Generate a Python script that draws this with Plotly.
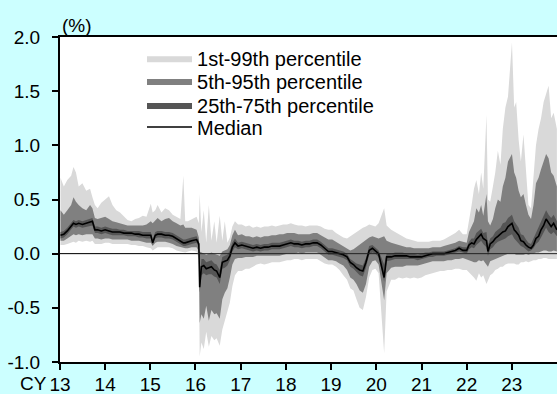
import plotly.graph_objects as go

dates = [
    "2013-01-05", "2013-02-01", "2013-03-01", "2013-04-01", "2013-04-20", "2013-05-10", "2013-06-01",
    "2013-07-01", "2013-08-01", "2013-09-01", "2013-09-20", "2013-10-10", "2013-11-01", "2013-12-01",
    "2014-01-01", "2014-02-01", "2014-03-01", "2014-04-01", "2014-05-01", "2014-06-01", "2014-07-01",
    "2014-08-01", "2014-09-01", "2014-10-01", "2014-11-01", "2014-12-01",
    "2015-01-05", "2015-01-20", "2015-02-10", "2015-03-01", "2015-04-01", "2015-05-01", "2015-06-01",
    "2015-07-01", "2015-08-01", "2015-09-01", "2015-09-25", "2015-10-10", "2015-11-01", "2015-12-01",
    "2016-01-10", "2016-01-28", "2016-02-04", "2016-02-18", "2016-03-08", "2016-03-28", "2016-04-18",
    "2016-05-09", "2016-06-01", "2016-06-20", "2016-07-15", "2016-08-05", "2016-08-25", "2016-09-15",
    "2016-10-05", "2016-10-25", "2016-11-15", "2016-12-10",
    "2017-01-10", "2017-02-10", "2017-03-10", "2017-04-10", "2017-05-10", "2017-06-10", "2017-07-10",
    "2017-08-10", "2017-09-10", "2017-10-10", "2017-11-10", "2017-12-10",
    "2018-01-10", "2018-02-10", "2018-03-10", "2018-04-10", "2018-05-10", "2018-06-10", "2018-07-10",
    "2018-08-10", "2018-09-10", "2018-10-10", "2018-11-10", "2018-12-10",
    "2019-01-10", "2019-02-10", "2019-03-10", "2019-04-10", "2019-05-10", "2019-06-05", "2019-07-01",
    "2019-07-25", "2019-08-20", "2019-09-15", "2019-10-10", "2019-11-05", "2019-12-01", "2019-12-25",
    "2020-01-20", "2020-03-05", "2020-03-25", "2020-05-01", "2020-06-01", "2020-07-01", "2020-08-01",
    "2020-09-01", "2020-10-01", "2020-11-01", "2020-12-01",
    "2021-01-01", "2021-02-01", "2021-03-01", "2021-04-01", "2021-05-01", "2021-06-01", "2021-07-01",
    "2021-08-01", "2021-09-01", "2021-10-01", "2021-11-01", "2021-12-01",
    "2022-01-01", "2022-01-20", "2022-02-10", "2022-03-01", "2022-03-20", "2022-04-10", "2022-04-28",
    "2022-05-15", "2022-06-10", "2022-06-22", "2022-07-10", "2022-08-01", "2022-08-20", "2022-09-10",
    "2022-10-01", "2022-10-20", "2022-11-10", "2022-12-01",
    "2023-01-02", "2023-01-20", "2023-02-05", "2023-02-25", "2023-03-15", "2023-04-05", "2023-04-25",
    "2023-05-15", "2023-06-05", "2023-06-25", "2023-07-15", "2023-08-05", "2023-08-25", "2023-09-15",
    "2023-10-05", "2023-10-25", "2023-11-15", "2023-12-05", "2023-12-31",
]

p1 = [
    0.08, 0.08, 0.09, 0.10, 0.11, 0.10, 0.12, 0.11, 0.12, 0.11, 0.12, 0.09, 0.09, 0.09,
    0.10, 0.10, 0.09, 0.09, 0.09, 0.09, 0.09, 0.08, 0.08, 0.07, 0.07, 0.06,
    0.05, 0.03, 0.05, 0.06, 0.06, 0.06, 0.06, 0.05, 0.03, 0.02, 0.01, 0.01, 0.02, 0.03,
    0.02, -0.05, -0.95, -0.82, -0.88, -0.72, -0.86, -0.76, -0.80, -0.78, -0.85, -0.70, -0.62, -0.52,
    -0.45, -0.30, -0.20, -0.16,
    -0.16, -0.14, -0.14, -0.12, -0.10, -0.09, -0.10, -0.09, -0.08, -0.08, -0.08, -0.07,
    -0.06, -0.06, -0.05, -0.05, -0.06, -0.05, -0.05, -0.05, -0.05, -0.07, -0.09, -0.10,
    -0.10, -0.12, -0.15, -0.20, -0.24, -0.32, -0.34, -0.42, -0.50, -0.52, -0.40, -0.22, -0.15, -0.14,
    -0.18, -0.92, -0.35, -0.24, -0.24, -0.22, -0.23, -0.22, -0.23, -0.22, -0.23,
    -0.22, -0.20, -0.19, -0.18, -0.17, -0.16, -0.16, -0.15, -0.15, -0.14, -0.14, -0.15,
    -0.15, -0.17, -0.20, -0.22, -0.25, -0.18, -0.22, -0.20, -0.28, -0.25, -0.20, -0.18, -0.15, -0.14,
    -0.12, -0.12, -0.10, -0.09,
    -0.09, -0.09, -0.10, -0.10, -0.08, -0.08, -0.07, -0.08, -0.07, -0.06, -0.06, -0.05, -0.05, -0.04,
    -0.04, -0.05, -0.05, -0.05, -0.05,
]

p5 = [
    0.12, 0.12, 0.14, 0.16, 0.18, 0.17, 0.18, 0.17, 0.18, 0.18, 0.18, 0.14, 0.14, 0.13,
    0.14, 0.14, 0.13, 0.13, 0.13, 0.13, 0.13, 0.12, 0.12, 0.12, 0.11, 0.10,
    0.10, 0.07, 0.10, 0.11, 0.11, 0.11, 0.10, 0.09, 0.07, 0.06, 0.05, 0.05, 0.05, 0.06,
    0.06, 0.02, -0.64, -0.56, -0.60, -0.48, -0.62, -0.52, -0.56, -0.55, -0.60, -0.42, -0.36, -0.32,
    -0.22, -0.10, -0.05, -0.04,
    -0.04, -0.03, -0.03, -0.03, -0.02, -0.02, -0.02, -0.02, -0.02, -0.02, -0.02, -0.01,
    0.00, 0.00, 0.00, 0.01, 0.00, 0.01, 0.01, 0.01, 0.01, -0.01, -0.04, -0.06,
    -0.06, -0.07, -0.09, -0.11, -0.15, -0.22, -0.24, -0.28, -0.34, -0.36, -0.28, -0.12, -0.07, -0.06,
    -0.10, -0.43, -0.18, -0.13, -0.12, -0.12, -0.12, -0.11, -0.11, -0.11, -0.11,
    -0.10, -0.09, -0.08, -0.07, -0.07, -0.07, -0.07, -0.06, -0.06, -0.05, -0.05, -0.04,
    -0.05, -0.06, -0.07, -0.08, -0.08, -0.06, -0.07, -0.06, -0.10, -0.12, -0.07, -0.06, -0.05, -0.04,
    -0.03, -0.02, -0.01, 0.00,
    0.00, 0.00, -0.01, -0.01, -0.01, -0.01, 0.00, -0.01, 0.00, 0.00, 0.01, 0.01, 0.02, 0.03,
    0.03, 0.02, 0.02, 0.03, 0.02,
]

p25 = [
    0.14, 0.15, 0.18, 0.22, 0.25, 0.24, 0.25, 0.24, 0.25, 0.26, 0.26, 0.19, 0.19, 0.18,
    0.19, 0.18, 0.17, 0.17, 0.17, 0.17, 0.16, 0.16, 0.16, 0.15, 0.15, 0.14,
    0.14, 0.08, 0.14, 0.15, 0.15, 0.14, 0.14, 0.13, 0.11, 0.09, 0.07, 0.07, 0.08, 0.09,
    0.10, 0.06, -0.36, -0.20, -0.18, -0.20, -0.19, -0.19, -0.21, -0.22, -0.28, -0.14, -0.13, -0.11,
    -0.06, 0.02, 0.06, 0.04,
    0.05, 0.04, 0.03, 0.02, 0.03, 0.02, 0.03, 0.03, 0.04, 0.04, 0.04, 0.05,
    0.06, 0.07, 0.06, 0.06, 0.05, 0.06, 0.06, 0.07, 0.07, 0.05, 0.02, -0.01,
    -0.01, -0.02, -0.03, -0.04, -0.06, -0.12, -0.14, -0.17, -0.20, -0.21, -0.13, -0.01, 0.01, 0.00,
    -0.03, -0.26, -0.07, -0.06, -0.05, -0.05, -0.05, -0.05, -0.05, -0.05, -0.06,
    -0.05, -0.04, -0.03, -0.03, -0.02, -0.02, -0.02, -0.01, 0.00, 0.01, 0.02, 0.01,
    0.00, 0.04, 0.06, 0.05, 0.08, 0.10, 0.12, 0.09, 0.06, -0.02, 0.04, 0.06, 0.09, 0.11,
    0.12, 0.13, 0.14, 0.16,
    0.18, 0.14, 0.12, 0.10, 0.07, 0.06, 0.04, 0.02, 0.03, 0.05, 0.09, 0.11, 0.15, 0.20,
    0.24, 0.20, 0.18, 0.20, 0.16,
]

p50 = [
    0.17, 0.18, 0.21, 0.25, 0.28, 0.27, 0.28, 0.27, 0.28, 0.29, 0.30, 0.22, 0.22, 0.21,
    0.22, 0.21, 0.20, 0.20, 0.20, 0.19, 0.19, 0.19, 0.18, 0.18, 0.17, 0.17,
    0.17, 0.10, 0.17, 0.18, 0.18, 0.17, 0.17, 0.16, 0.14, 0.12, 0.10, 0.10, 0.11, 0.12,
    0.13, 0.09, -0.31, -0.12, -0.11, -0.14, -0.13, -0.12, -0.15, -0.16, -0.22, -0.08, -0.07, -0.06,
    -0.02, 0.06, 0.10, 0.07,
    0.08, 0.07, 0.06, 0.05, 0.06, 0.05, 0.06, 0.06, 0.07, 0.07, 0.07, 0.08,
    0.09, 0.10, 0.09, 0.09, 0.08, 0.09, 0.09, 0.10, 0.10, 0.08, 0.05, 0.02,
    0.02, 0.01, 0.00, -0.01, -0.03, -0.08, -0.10, -0.13, -0.15, -0.16, -0.08, 0.03, 0.05, 0.03,
    0.00, -0.22, -0.03, -0.03, -0.02, -0.02, -0.02, -0.02, -0.03, -0.03, -0.03,
    -0.03, -0.02, -0.01, 0.00, 0.00, 0.00, 0.00, 0.01, 0.02, 0.03, 0.05, 0.03,
    0.03, 0.08, 0.10, 0.09, 0.13, 0.16, 0.18, 0.14, 0.12, 0.02, 0.09, 0.11, 0.14, 0.16,
    0.18, 0.20, 0.21, 0.25,
    0.28, 0.22, 0.20, 0.17, 0.12, 0.11, 0.08, 0.06, 0.05, 0.08, 0.14, 0.16, 0.22, 0.26,
    0.32, 0.28, 0.25, 0.28, 0.22,
]

p75 = [
    0.20, 0.21, 0.24, 0.28, 0.31, 0.30, 0.31, 0.30, 0.31, 0.32, 0.33, 0.25, 0.25, 0.24,
    0.25, 0.24, 0.23, 0.23, 0.22, 0.22, 0.21, 0.21, 0.21, 0.21, 0.20, 0.20,
    0.20, 0.13, 0.20, 0.21, 0.21, 0.20, 0.20, 0.19, 0.17, 0.15, 0.13, 0.13, 0.14, 0.15,
    0.16, 0.12, -0.24, -0.05, -0.05, -0.08, -0.07, -0.06, -0.09, -0.10, -0.15, -0.03, -0.02, -0.01,
    0.03, 0.10, 0.14, 0.10,
    0.11, 0.10, 0.09, 0.08, 0.09, 0.08, 0.09, 0.09, 0.10, 0.10, 0.10, 0.11,
    0.12, 0.13, 0.12, 0.12, 0.11, 0.12, 0.12, 0.13, 0.13, 0.11, 0.08, 0.05,
    0.05, 0.04, 0.03, 0.02, 0.00, -0.05, -0.07, -0.09, -0.10, -0.11, -0.04, 0.07, 0.08, 0.06,
    0.03, -0.10, 0.00, 0.00, 0.01, 0.01, 0.01, 0.00, 0.00, 0.00, -0.01,
    0.00, 0.01, 0.01, 0.02, 0.02, 0.02, 0.02, 0.03, 0.04, 0.05, 0.07, 0.06,
    0.06, 0.11, 0.14, 0.14, 0.19, 0.21, 0.23, 0.19, 0.20, 0.08, 0.14, 0.16, 0.20, 0.22,
    0.24, 0.28, 0.29, 0.33,
    0.36, 0.30, 0.27, 0.24, 0.18, 0.17, 0.13, 0.10, 0.09, 0.14, 0.20, 0.24, 0.30, 0.34,
    0.40, 0.36, 0.33, 0.36, 0.30,
]

p95 = [
    0.40, 0.36, 0.40, 0.45, 0.52, 0.48, 0.45, 0.42, 0.40, 0.45, 0.42, 0.33, 0.32, 0.33,
    0.34, 0.32, 0.30, 0.29, 0.28, 0.27, 0.26, 0.26, 0.26, 0.26, 0.26, 0.27,
    0.30, 0.28, 0.31, 0.33, 0.30, 0.32, 0.33, 0.30, 0.28, 0.26, 0.27, 0.24, 0.24, 0.24,
    0.22, 0.15, 0.02, 0.01, 0.00, -0.01, 0.00, 0.01, 0.00, -0.01, -0.02, 0.02, 0.03, 0.04,
    0.08, 0.17, 0.22, 0.17,
    0.18, 0.16, 0.16, 0.15, 0.16, 0.15, 0.16, 0.16, 0.17, 0.17, 0.18, 0.18,
    0.19, 0.19, 0.19, 0.18, 0.18, 0.18, 0.18, 0.19, 0.19, 0.17, 0.15, 0.13,
    0.13, 0.11, 0.09, 0.07, 0.05, 0.03, 0.04, 0.06, 0.08, 0.10, 0.12, 0.15, 0.16, 0.15,
    0.14, 0.16, 0.12, 0.10, 0.09, 0.08, 0.07, 0.06, 0.06, 0.05, 0.05,
    0.05, 0.05, 0.05, 0.06, 0.06, 0.06, 0.07, 0.08, 0.09, 0.10, 0.12, 0.11,
    0.10, 0.20, 0.25, 0.30, 0.42, 0.38, 0.45, 0.35, 0.55, 0.30, 0.26, 0.32, 0.42, 0.50,
    0.48, 0.62, 0.70, 0.85,
    0.92, 0.75, 0.70, 0.58, 0.52, 0.55, 0.45, 0.36, 0.32, 0.45, 0.65, 0.70, 0.78, 0.85,
    0.92, 0.88, 0.75, 0.72, 0.62,
]

p99 = [
    0.70, 0.62, 0.68, 0.72, 0.80, 0.75, 0.62, 0.65, 0.58, 0.60, 0.52, 0.45, 0.42, 0.47,
    0.50, 0.53, 0.45, 0.40, 0.38, 0.34, 0.31, 0.30, 0.32, 0.33, 0.35, 0.34,
    0.46, 0.38, 0.40, 0.45, 0.38, 0.42, 0.40, 0.36, 0.34, 0.32, 0.72, 0.30, 0.30, 0.32,
    0.34, 0.28, 0.55, 0.20, 0.40, 0.10, 0.45, 0.12, 0.30, 0.10, 0.35, 0.12, 0.30, 0.10,
    0.15, 0.25, 0.30, 0.27,
    0.27, 0.25, 0.26, 0.24, 0.25, 0.24, 0.25, 0.25, 0.26, 0.25, 0.26, 0.27,
    0.27, 0.28, 0.27, 0.26, 0.26, 0.25, 0.26, 0.26, 0.26, 0.25, 0.23, 0.22,
    0.22, 0.19, 0.17, 0.15, 0.14, 0.16, 0.18, 0.20, 0.22, 0.24, 0.25, 0.27, 0.26, 0.25,
    0.28, 0.42, 0.26, 0.22, 0.20, 0.18, 0.16, 0.14, 0.13, 0.12, 0.11,
    0.11, 0.11, 0.11, 0.12, 0.12, 0.12, 0.13, 0.15, 0.17, 0.19, 0.22, 0.18,
    0.18, 0.30, 0.45, 0.60, 0.68, 0.55, 0.75, 0.60, 1.28, 0.50, 0.48, 0.62, 0.75, 0.95,
    0.82, 1.15, 1.35, 1.45,
    1.95, 1.35, 1.40, 1.05, 0.85, 1.10, 0.80, 0.45, 0.42, 0.75, 1.00, 1.15, 1.25, 1.40,
    1.48, 1.55, 1.25, 1.30, 1.15,
]

year_ticks = [f"{y}-01-01" for y in range(2013, 2024)]
year_labels = ["13", "14", "15", "16", "17", "18", "19", "20", "21", "22", "23"]
y_ticks = [-1.0, -0.5, 0.0, 0.5, 1.0, 1.5, 2.0]
y_labels = ["-1.0", "-0.5", "0.0", "0.5", "1.0", "1.5", "2.0"]

bands = [
    ("1st-99th percentile", p1, p99, "#d9d9d9", "legend"),
    ("5th-95th percentile", p5, p95, "#808080", "legend2"),
    ("25th-75th percentile", p25, p75, "#555555", "legend3"),
]

fig = go.Figure()
for name, lo, hi, col, lg in bands:
    fig.add_trace(go.Scatter(x=dates, y=lo, mode="lines", line=dict(width=0, color=col),
                             showlegend=False, hoverinfo="skip"))
    fig.add_trace(go.Scatter(x=dates, y=hi, mode="lines", line=dict(width=0, color=col),
                             fill="tonexty", fillcolor=col, name=name, hoverinfo="skip",
                             legend=lg))
fig.add_trace(go.Scatter(x=dates, y=p50, mode="lines", line=dict(width=1.6, color="black"),
                         name="Median", legend="legend4"))

font_family = "Liberation Sans, Arial, sans-serif"
leg_common = dict(x=0.165, xanchor="left", yanchor="middle", bgcolor="rgba(0,0,0,0)",
                  itemwidth=45, font=dict(size=20), borderwidth=0)
fig.update_layout(
    width=557, height=394,
    margin=dict(l=60, r=0, t=37, b=32, autoexpand=False),
    paper_bgcolor="#ccffff", plot_bgcolor="white",
    font=dict(family=font_family, size=19, color="black"),
    legend=dict(y=0.935, **leg_common),
    legend2=dict(y=0.865, **leg_common),
    legend3=dict(y=0.7908, **leg_common),
    legend4=dict(y=0.7231, **leg_common),
    xaxis=dict(type="date", range=["2013-01-01", "2024-01-01"], tickvals=year_ticks,
               ticktext=year_labels, ticks="outside", ticklen=6, tickwidth=2, tickcolor="black",
               showline=True, linecolor="black", linewidth=2, mirror=True,
               showgrid=False, zeroline=False, automargin=False, ticklabelstandoff=-2,
               tickfont=dict(size=19)),
    yaxis=dict(range=[-1, 2], tickvals=y_ticks, ticktext=y_labels, ticks="outside", ticklen=6,
               tickwidth=2, tickcolor="black", showline=True, linecolor="black", linewidth=2,
               showgrid=False, zeroline=True, zerolinecolor="black", zerolinewidth=1,
               layer="above traces", automargin=False, ticklabelstandoff=8),
    shapes=[
        dict(type="line", xref="paper", yref="y", x0=0, x1=1, y0=0, y1=0,
             line=dict(color="#222222", width=1), layer="above"),
    ],
    annotations=[
        dict(text="(%)", xref="paper", yref="paper", x=0, y=1, xanchor="left", yanchor="middle",
             showarrow=False, font=dict(size=19), yshift=12),
        dict(text="CY", xref="paper", yref="paper", x=0, y=0, xanchor="right", yanchor="middle",
             showarrow=False, font=dict(size=19), xshift=-11, yshift=-21),
    ],
)

fig.write_html("out.html", config={"displayModeBar": False},
               post_script="document.body.style.margin='0px';document.body.style.padding='0px';")
